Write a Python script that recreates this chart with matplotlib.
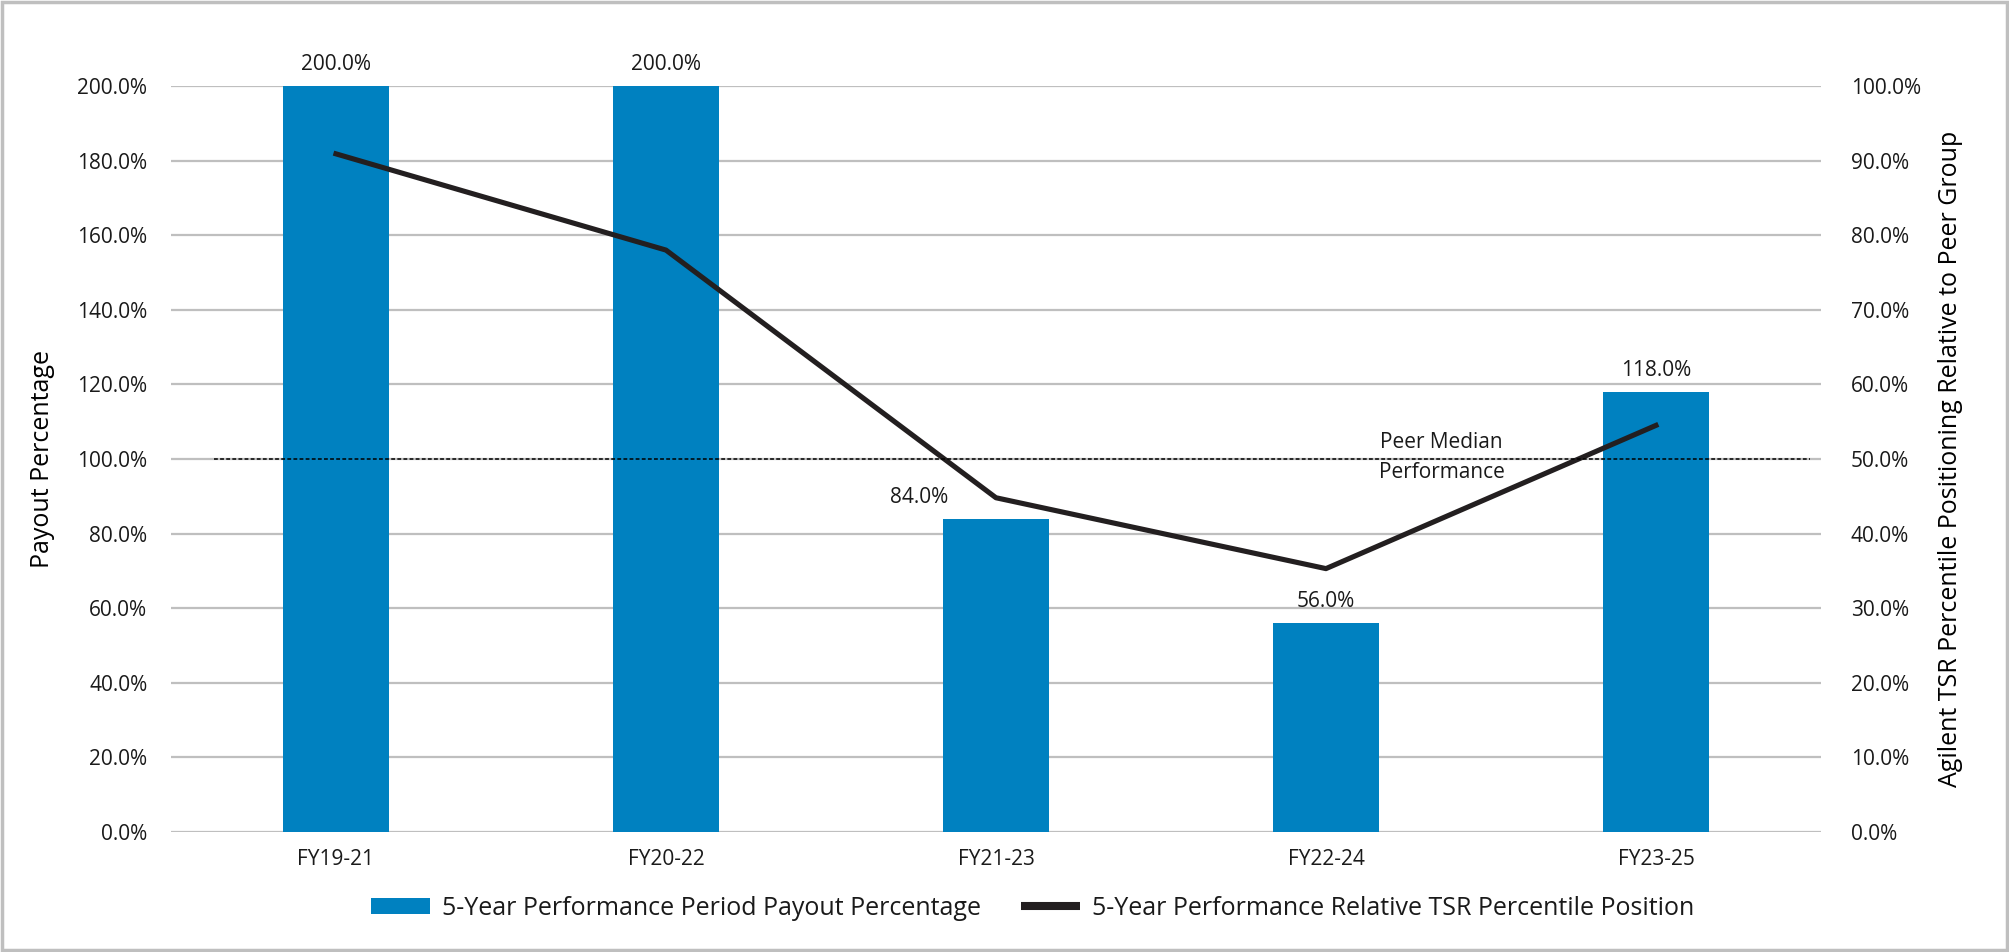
import numpy as np
import matplotlib.pyplot as plt
from matplotlib.patches import Patch, Rectangle
from matplotlib.lines import Line2D
from matplotlib.ticker import FuncFormatter

periods = ['FY19-21', 'FY20-22', 'FY21-23', 'FY22-24', 'FY23-25']
payout_pct = [200.0, 200.0, 84.0, 56.0, 118.0]
tsr_percentile = [90.9, 78.0, 44.8, 35.3, 54.5]
peer_median = 50.0

bar_color = '#0081c0'
line_color = '#231f20'
grid_color = '#bfbfbf'

plt.rcParams['font.family'] = ['Open Sans', 'DejaVu Sans']
plt.rcParams['text.color'] = '#1a1a1a'

fig = plt.figure(figsize=(20.09, 9.52), dpi=100, facecolor='white')
ax = fig.add_axes([0.0851, 0.1261, 0.8213, 0.7836])
ax2 = ax.twinx()

x = np.arange(len(periods))
ax.bar(x, payout_pct, width=0.32, color=bar_color, zorder=2)

ax.set_ylim(0, 200)
ax.set_yticks(np.arange(0, 201, 20))
ax.yaxis.set_major_formatter(FuncFormatter(lambda v, p: f'{v:.1f}%'))
ax.set_xlim(-0.5, len(periods) - 0.5)
ax.set_xticks(x)
ax.set_xticklabels(periods)
ax.grid(axis='y', color=grid_color, linewidth=1.6, zorder=0)
ax.set_axisbelow(True)
ax.tick_params(axis='y', length=0, pad=17, labelsize=15, labelcolor='#1a1a1a')
ax.tick_params(axis='x', length=0, pad=12, labelsize=15, labelcolor='#1a1a1a')
for s in ax.spines.values():
    s.set_visible(False)
for s in ax2.spines.values():
    s.set_visible(False)

ax.set_ylabel('Payout Percentage', fontsize=18)
ax.yaxis.set_label_coords(-0.0703, 0.5)

# bar labels; 84% is pushed left so the line does not cover it
nudge = [0, 0, -55, 0, 0]
for xi, v, dx in zip(x, payout_pct, nudge):
    ax.annotate(f'{v:.1f}%', (xi, v), xytext=(dx, 8), textcoords='offset points',
                ha='center', va='bottom', fontsize=15)

ax2.set_ylim(0, 100)
ax2.set_yticks(np.arange(0, 101, 10))
ax2.yaxis.set_major_formatter(FuncFormatter(lambda v, p: f'{v:.1f}%'))
ax2.tick_params(axis='y', length=0, pad=21.5, labelsize=15, labelcolor='#1a1a1a')
ax2.set_ylabel('Agilent TSR Percentile Positioning Relative to Peer Group', fontsize=18)
ax2.yaxis.set_label_coords(1.071, 0.5)

ax2.plot(x, tsr_percentile, color=line_color, linewidth=3.7, zorder=3)
ax2.plot([-0.37, 4.468], [peer_median, peer_median], color='black',
         linestyle=(0, (2.5, 1.5)), linewidth=1.1, zorder=3)
ax2.annotate('Peer Median', (3.35, peer_median), xytext=(0, 11.5),
             textcoords='offset points', ha='center', va='center', fontsize=15)
ax2.annotate('Performance', (3.35, peer_median), xytext=(0, -10),
             textcoords='offset points', ha='center', va='center', fontsize=15)

handles = [Patch(facecolor=bar_color, edgecolor='none'),
           Line2D([0], [0], color=line_color, linewidth=5.8, solid_capstyle='butt')]
labels = ['5-Year Performance Period Payout Percentage',
          '5-Year Performance Relative TSR Percentile Position']
fig.legend(handles, labels, loc='center', bbox_to_anchor=(0.514, 0.046), ncol=2,
           frameon=False, fontsize=18, handlelength=2.35, handleheight=0.6,
           columnspacing=1.6, handletextpad=0.48)

fig.patches.append(Rectangle((0.001, 0.002), 0.998, 0.996, transform=fig.transFigure,
                             fill=False, edgecolor=grid_color, linewidth=2.5))

fig.savefig('out.png', dpi=100)
